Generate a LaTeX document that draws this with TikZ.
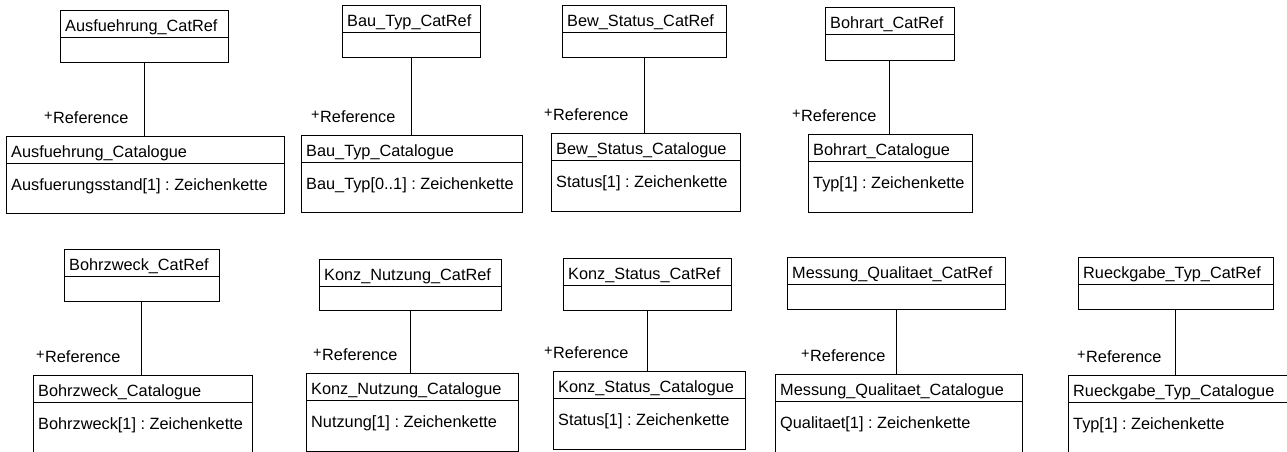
\documentclass[tikz,border=0pt]{standalone}
\usepackage{fontspec}
\setmainfont{Liberation Sans}
\frenchspacing
\begin{document}
\begin{tikzpicture}[x=1pt,y=-1pt,
  classbox/.style={draw=black,line width=1pt,fill=white,inner sep=0pt,outer sep=0pt},
  classtext/.style={anchor=base west,inner sep=0pt,font=\fontsize{16.3}{19}\selectfont},
  rolelabel/.style={anchor=base west,inner sep=0pt,font=\fontsize{16.3}{19}\selectfont},
  assoc/.style={draw=black,line width=1pt}]
\useasboundingbox (0,0) rectangle (1287,452);
\clip (0,0) rectangle (1287,452);

% class box: name, x, y, width, height, title, attribute
\newcommand\umlclass[7]{%
  \node[classbox,minimum width=#4pt,minimum height=#5pt,anchor=north west] (#1) at (#2,#3) {};
  \draw[classbox] ([yshift=-27pt]#1.north west) -- ([yshift=-27pt]#1.north east);
  \node[classtext] (#1-title) at ([xshift=5pt,yshift=-21pt]#1.north west) {#6};
  \node[classtext] (#1-attr) at ([xshift=5pt,yshift=-54pt]#1.north west) {#7};
}
% association from a CatRef class to its catalogue, with the role name
\newcommand\catlink[3]{%
  \draw[assoc] (#1.south) -- (#1.south |- #2.north);
  \node[rolelabel] (#1-role) at ([yshift=13pt]#2.north west -| #3,0) {\raisebox{2.5pt}{\fontsize{14.5}{14.5}\selectfont+}\hspace{0.5pt}Reference};
}

% upper row
\umlclass{ausRef}{60}{11}{168}{52}{Ausfuehrung\_CatRef}{}
\umlclass{ausCat}{6}{136}{278}{77}{Ausfuehrung\_Catalogue}{Ausfuerungsstand[1] : Zeichenkette}
\catlink{ausRef}{ausCat}{44}

\umlclass{bauRef}{342}{6}{138}{52}{Bau\_Typ\_CatRef}{}
\umlclass{bauCat}{301}{135}{221}{77}{Bau\_Typ\_Catalogue}{Bau\_Typ[0..1] : Zeichenkette}
\catlink{bauRef}{bauCat}{311}

\umlclass{bewRef}{562}{6}{164}{52}{Bew\_Status\_CatRef}{}
\umlclass{bewCat}{551}{133}{189}{78}{Bew\_Status\_Catalogue}{Status[1] : Zeichenkette}
\catlink{bewRef}{bewCat}{544}

\umlclass{artRef}{825}{8}{129}{53}{Bohrart\_CatRef}{}
\umlclass{artCat}{808}{134}{164}{78}{Bohrart\_Catalogue}{Typ[1] : Zeichenkette}
\catlink{artRef}{artCat}{792}

% lower row
\umlclass{zweckRef}{64}{249}{155}{52}{Bohrzweck\_CatRef}{}
\umlclass{zweckCat}{33}{375}{219}{78}{Bohrzweck\_Catalogue}{Bohrzweck[1] : Zeichenkette}
\catlink{zweckRef}{zweckCat}{36}

\umlclass{nutzRef}{319}{259}{182}{51}{Konz\_Nutzung\_CatRef}{}
\umlclass{nutzCat}{306}{373}{212}{78}{Konz\_Nutzung\_Catalogue}{Nutzung[1] : Zeichenkette}
\catlink{nutzRef}{nutzCat}{313}

\umlclass{kstRef}{563}{258}{168}{52}{Konz\_Status\_CatRef}{}
\umlclass{kstCat}{553}{371}{192}{78}{Konz\_Status\_Catalogue}{Status[1] : Zeichenkette}
\catlink{kstRef}{kstCat}{544}

\umlclass{messRef}{787}{257}{218}{52}{Messung\_Qualitaet\_CatRef}{}
\umlclass{messCat}{775}{374}{247}{78}{Messung\_Qualitaet\_Catalogue}{Qualitaet[1] : Zeichenkette}
\catlink{messRef}{messCat}{801}

\umlclass{rueckRef}{1078}{257}{195}{52}{Rueckgabe\_Typ\_CatRef}{}
\umlclass{rueckCat}{1068}{375}{240}{78}{Rueckgabe\_Typ\_Catalogue}{Typ[1] : Zeichenkette}
\catlink{rueckRef}{rueckCat}{1077}
\end{tikzpicture}
\end{document}
